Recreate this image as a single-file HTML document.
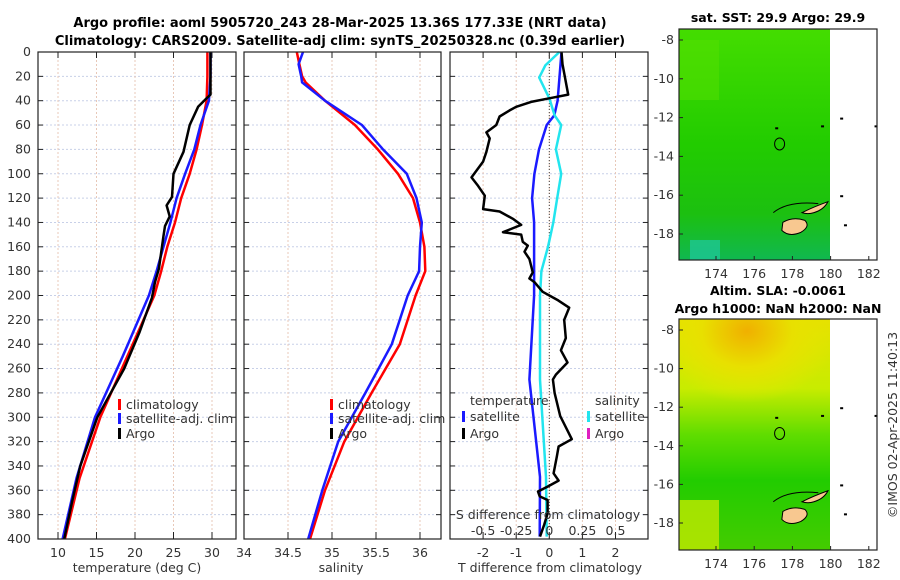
<!DOCTYPE html>
<html><head><meta charset="utf-8"><style>
body{margin:0;background:#fff;}
svg{display:block;font-family:"DejaVu Sans","Liberation Sans",sans-serif;}
</style></head><body>
<svg id="c" width="900" height="580" viewBox="0 0 900 580">
<defs>
<linearGradient id="sstG" x1="0" y1="0" x2="0" y2="1">
<stop offset="0" stop-color="#44dd00"/><stop offset="0.5" stop-color="#22cc00"/><stop offset="0.8" stop-color="#1cc010"/><stop offset="1" stop-color="#10b850"/></linearGradient>
<radialGradient id="slaHot" cx="0.45" cy="0.1" r="0.6"><stop offset="0" stop-color="#f0b000"/><stop offset="0.5" stop-color="#e8e000"/><stop offset="1" stop-color="#e8e800" stop-opacity="0"/></radialGradient>
<linearGradient id="slaG" x1="0" y1="0" x2="0" y2="1">
<stop offset="0" stop-color="#e6e000"/><stop offset="0.3" stop-color="#c8ec00"/><stop offset="0.5" stop-color="#60dd00"/><stop offset="0.7" stop-color="#22cc00"/><stop offset="1" stop-color="#44cc00"/></linearGradient>
</defs>
<g id="g"></g>
</svg>
<script>
// ---- data ----
const depthTicks=[0,20,40,60,80,100,120,140,160,180,200,220,240,260,280,300,320,340,360,380,400];
const tTicks=[10,15,20,25,30];
const sTicks=[34,34.5,35,35.5,36];
const dTTicks=[-2,-1,0,1,2];
const dSTicks=[-0.5,-0.25,0,0.25,0.5];
const tClimDepth=[0,20,40,60,80,100,120,140,160,180,200,250,300,350,400];
const tClimVal=[29.4,29.4,29.3,28.7,28.0,27.1,26.0,25.2,24.2,23.4,22.5,19.0,15.5,12.8,10.9];
const tSatVal=[29.8,29.8,29.6,28.5,27.7,26.5,25.4,24.6,23.7,22.8,21.8,18.4,14.8,12.4,10.6];
const argoTDepth=[0,20,35,38,45,60,82,100,119,126,135,143,151,178,189,202,230,260,300,340,370,400];
const argoTVal=[29.8,29.8,29.8,29.3,28.2,27.1,26.3,25.0,24.8,24.1,24.5,23.9,23.7,23.1,22.6,22.2,20.6,18.6,15.1,12.9,11.8,10.8];
const sClimDepth=[0,10,20,25,40,60,80,100,120,140,160,180,200,240,280,320,360,400];
const sClimVal=[34.6,34.63,34.66,34.7,34.92,35.26,35.52,35.75,35.92,36.0,36.05,36.06,35.95,35.77,35.45,35.14,34.92,34.75];
const sSatVal=[34.67,34.62,34.65,34.66,34.92,35.34,35.58,35.85,35.96,36.02,36.0,35.99,35.86,35.68,35.38,35.07,34.89,34.73];
const dArgoDepth=[0,10,35,38,41,45,48,53,60,66,71,82,90,103,110,118,129,131,137,142,148,150,156,159,164,170,181,186,189,197,204,210,220,235,245,255,265,269,280,299,318,324,332,346,352,357,361,365,368,379,388,398];
const dArgoVal=[0.37,0.4,0.57,0.0,-0.55,-1.0,-1.2,-1.5,-1.6,-1.9,-1.8,-1.9,-2.0,-2.35,-2.15,-1.95,-2.0,-1.5,-1.1,-0.85,-1.4,-0.85,-0.8,-0.65,-0.75,-0.6,-0.5,-0.6,-0.45,-0.2,0.27,0.6,0.45,0.5,0.35,0.55,0.2,0.11,0.16,0.33,0.68,0.28,0.23,0.13,0.28,-0.05,-0.34,-0.29,-0.05,-0.05,-0.15,-0.28];
const dTSatDepth=[0,40,52,60,80,100,120,140,200,269,349,398];
const dTSatVal=[0.37,0.25,0.15,-0.08,-0.31,-0.45,-0.52,-0.46,-0.46,-0.6,-0.28,-0.29];
const dSSatDepth=[0,11,21,38,52,60,80,100,120,140,160,180,200,269,349,398];
const dSSatVal=[0.076,-0.03,-0.076,0.0,0.04,0.09,0.05,0.09,0.06,0.03,-0.01,-0.06,-0.07,-0.07,-0.025,-0.02];

const NS="http://www.w3.org/2000/svg";
const G=document.getElementById('g');
function el(t,a,p){const e=document.createElementNS(NS,t);for(const k in a)e.setAttribute(k,a[k]);(p||G).appendChild(e);return e;}
function txt(x,y,s,a,p){const e=el('text',Object.assign({x:x,y:y,'font-size':12.5,fill:'#333'},a||{}),p);e.textContent=s;return e;}
const yD=d=>52+d*1.2175;
const xT=v=>58+(v-10)*7.7;
const xS=v=>244+(v-34)*88;
const xDT=v=>549.3+v*33.1;
const xDS=v=>549.3+v*132.4;

// titles
let t1=txt(340,27,'Argo profile: aoml 5905720_243 28-Mar-2025 13.36S 177.33E (NRT data)',{'text-anchor':'middle','font-weight':'bold',fill:'#000','font-size':13});

let t2=txt(340,45,'Climatology: CARS2009. Satellite-adj clim: synTS_20250328.nc (0.39d earlier)',{'text-anchor':'middle','font-weight':'bold',fill:'#000','font-size':13});


function panel(x0,x1,name,xs,ticks){
  const p=el('g',{});
  
  
  depthTicks.forEach(d=>{if(d>0&&d<400)el('line',{x1:x0,x2:x1,y1:yD(d),y2:yD(d),stroke:'#c8d0e8','stroke-width':1,'stroke-dasharray':'2,2'},p);});
  ticks.forEach(v=>{el('line',{x1:xs(v),x2:xs(v),y1:52,y2:539,stroke:'#e8c8b8','stroke-width':1,'stroke-dasharray':'2,2'},p);
    el('line',{x1:xs(v),x2:xs(v),y1:532,y2:539,stroke:'#222'},p);
    el('line',{x1:xs(v),x2:xs(v),y1:52,y2:58,stroke:'#222'},p);
    const l=txt(xs(v),557,String(v),{'text-anchor':'middle'},p);
    });
  depthTicks.forEach(d=>{el('line',{x1:x0,x2:x0+5,y1:yD(d),y2:yD(d),stroke:'#222'},p);el('line',{x1:x1-5,x2:x1,y1:yD(d),y2:yD(d),stroke:'#222'},p);});
  return p;
}
function frame(x0,x1,p){el('rect',{x:x0,y:52,width:x1-x0,height:487,fill:'none',stroke:'#222','stroke-width':1.2},p);}
function line(ds,vs,xf,col,w,p,name){let d='';ds.forEach((dd,i)=>{d+=(i?'L':'M')+xf(vs[i]).toFixed(1)+','+yD(dd).toFixed(1);});
  const e=el('path',{d:d,fill:'none',stroke:col,'stroke-width':w,'stroke-linejoin':'round'},p);
  return e;}
function leg(x,y,col,label,p,name){const g=el('g',{},p);
  el('rect',{x:x,y:y-9,width:3,height:11,fill:col},g);txt(x+8,y+1,label,{},g);}

// panel 1
const p1=panel(38,236,'temperature-panel',xT,tTicks);
depthTicks.forEach(d=>{const l=txt(31,yD(d)+4,String(d),{'text-anchor':'end'});});
line(tClimDepth,tClimVal,xT,'#f00',2.5,p1,'temp-climatology-line');
line(tClimDepth,tSatVal,xT,'#1a1aff',2.5,p1,'temp-satellite-line');
line(argoTDepth,argoTVal,xT,'#000',2.5,p1,'temp-argo-line');
frame(38,236,p1);
leg(118,408,'#f00','climatology',p1,'legend-climatology');
leg(118,422,'#1a1aff','satellite-adj. clim',p1,'legend-satellite');
leg(118,437,'#000','Argo',p1,'legend-argo');
let xl1=txt(137,572,'temperature (deg C)',{'text-anchor':'middle'});

// panel 2
const p2=panel(244,441,'salinity-panel',xS,sTicks);
line(sClimDepth,sClimVal,xS,'#f00',2.5,p2,'sal-climatology-line');
line(sClimDepth,sSatVal,xS,'#1a1aff',2.5,p2,'sal-satellite-line');
frame(244,441,p2);
leg(330,408,'#f00','climatology',p2,'legend-climatology');
leg(330,422,'#1a1aff','satellite-adj. clim',p2,'legend-satellite');
leg(330,437,'#000','Argo',p2,'legend-argo');
let xl2=txt(341,572,'salinity',{'text-anchor':'middle'});

// panel 3
const p3=panel(450,648,'difference-panel',xDT,dTTicks);
el('line',{x1:549.3,x2:549.3,y1:52,y2:539,stroke:'#444','stroke-dasharray':'1,2'},p3);
line(dTSatDepth,dTSatVal,xDT,'#1a1aff',2.5,p3,'dT-satellite-line');
line(dSSatDepth,dSSatVal,xDS,'#22e5ee',2.5,p3,'dS-satellite-line');
line(dArgoDepth,dArgoVal,xDT,'#000',2.5,p3,'dT-argo-line');
frame(450,648,p3);
txt(470,405,'temperature',{},p3);
txt(595,405,'salinity',{},p3);
leg(462,420,'#1a1aff','satellite',p3,'legend-t-satellite');
leg(462,437,'#000','Argo',p3,'legend-t-argo');
leg(587,420,'#22e5ee','satellite',p3,'legend-s-satellite');
leg(587,437,'#e020c0','Argo',p3,'legend-s-argo');
let st=txt(548,519,'S difference from climatology',{'text-anchor':'middle'},p3);
dSTicks.forEach(v=>{const l=txt(xDS(v),535,String(v),{'text-anchor':'middle'},p3);});
let xl3=txt(550,572,'T difference from climatology',{'text-anchor':'middle'});

// maps
const lonTicks=[174,176,178,180,182];
const latTicks=[-8,-10,-12,-14,-16,-18];
function map(y0,y1,lat8,lat18,fill,name,extra){
  const m=el('g',{});
  const ky=(lat18-lat8)/10;const yL=l=>lat8+(-8-l)*ky;const xL=l=>716+(l-174)*19.1;
  el('rect',{x:679,y:y0,width:151,height:y1-y0,fill:fill},m);
  if(extra)extra(m);
  el('path',{d:`M${xL(177.5)} ${yL(-17.4)} q10 -6 22 -2 q6 6 -4 12 q-12 5 -19 -2z`,fill:'#f8c890',stroke:'#000','stroke-width':1},m);
  el('path',{d:`M${xL(178.5)} ${yL(-16.9)} q12 -6 26 -11 q-4 8 -14 11 q-6 2 -12 0z`,fill:'#f8c890',stroke:'#000','stroke-width':1},m);
  el('path',{d:`M${xL(177)} ${yL(-16.9)} q15 -12 45 -9`,fill:'none',stroke:'#000','stroke-width':1},m);
  el('ellipse',{cx:xL(177.33),cy:yL(-13.36),rx:5,ry:6,fill:'none',stroke:'#000','stroke-width':1},m);
  [[180.5,-12],[182.3,-12.4],[179.5,-12.4],[180.5,-16],[180.7,-17.5],[177.1,-12.5]].forEach(c=>el('rect',{x:xL(c[0]),y:yL(c[1]),width:3,height:2,fill:'#000'},m));
  el('rect',{x:679,y:y0,width:198,height:y1-y0,fill:'none',stroke:'#222','stroke-width':1.2},m);
  lonTicks.forEach(l=>{el('line',{x1:xL(l),x2:xL(l),y1:y1-4,y2:y1,stroke:'#222'},m);const t=txt(xL(l),y1+18,String(l),{'text-anchor':'middle'},m);});
  latTicks.forEach(l=>{el('line',{x1:679,x2:683,y1:yL(l),y2:yL(l),stroke:'#222'},m);const t=txt(674,yL(l)+4,String(l),{'text-anchor':'end'},m);});
  return m;
}
map(29,260,40,234,'url(#sstG)','sst-map',m=>{el('rect',{x:679,y:40,width:40,height:60,fill:'#55e000',opacity:0.5},m);el('rect',{x:690,y:240,width:30,height:20,fill:'#20c8a0',opacity:0.7},m);});
map(319,550,330,523,'url(#slaG)','sla-map',m=>{el('rect',{x:679,y:319,width:151,height:120,fill:'url(#slaHot)'},m);el('rect',{x:679,y:500,width:40,height:50,fill:'#c0e800',opacity:0.8},m);});
let mt1=txt(778,22,'sat. SST: 29.9 Argo: 29.9',{'text-anchor':'middle','font-weight':'bold',fill:'#000'});
let mt2=txt(778,295,'Altim. SLA: -0.0061',{'text-anchor':'middle','font-weight':'bold',fill:'#000'});
let mt3=txt(778,313,'Argo h1000: NaN h2000: NaN',{'text-anchor':'middle','font-weight':'bold',fill:'#000'});
let cp=txt(0,0,'©IMOS 02-Apr-2025 11:40:13',{'text-anchor':'middle',transform:'translate(897,425) rotate(-90)'});
</script>
</body></html>
